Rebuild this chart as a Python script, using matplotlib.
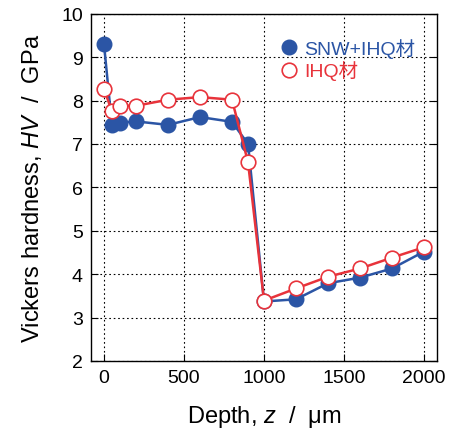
import matplotlib.pyplot as plt

plt.rcParams['font.family'] = ['Liberation Sans', 'Noto Sans CJK JP', 'DejaVu Sans']
plt.rcParams['mathtext.fontset'] = 'custom'
plt.rcParams['mathtext.it'] = 'Liberation Sans:italic'
plt.rcParams['mathtext.rm'] = 'Liberation Sans'

depth = [0, 50, 100, 200, 400, 600, 800, 900, 1000, 1200, 1400, 1600, 1800, 2000]
snw_ihq = [9.31, 7.43, 7.49, 7.52, 7.44, 7.62, 7.51, 7.0, 3.37, 3.42, 3.79, 3.92, 4.13, 4.52]
ihq = [8.27, 7.75, 7.88, 7.88, 8.02, 8.08, 8.02, 6.58, 3.39, 3.67, 3.94, 4.13, 4.38, 4.62]
labels = ['SNW+IHQ材', 'IHQ材']

blue = '#2b55a5'
red = '#e8333b'

fig = plt.figure(figsize=(4.49, 4.35), dpi=100)
ax = fig.add_axes([0.203, 0.168, 0.77, 0.798])

ax.plot(depth, snw_ihq, '-o', color=blue, lw=1.8, ms=10.5, mfc=blue, mec=blue,
        label=labels[0], zorder=3)
ax.plot(depth, ihq, '-o', color=red, lw=1.8, ms=10.5, mfc='white', mec=red,
        mew=1.2, label=labels[1], zorder=4)

ax.set_xlim(-80, 2080)
ax.set_ylim(2, 10)
ax.set_xticks([0, 500, 1000, 1500, 2000])
ax.set_yticks(range(2, 11))
ax.grid(True, color='black', linestyle=(0, (1.5, 2.5)), lw=0.8)
ax.tick_params(direction='in', right=True, top=False, labelsize=14, length=5, pad=6)
for s in ax.spines.values():
    s.set_linewidth(1.0)

ax.set_xlabel('Depth, $z$  /  μm', fontsize=17, labelpad=12)
ax.set_ylabel('Vickers hardness, $HV$  /  GPa', fontsize=17, labelpad=12)

leg = ax.legend(loc='upper left', bbox_to_anchor=(0.51, 0.97), frameon=False,
                handlelength=0.8, handletextpad=0.4, fontsize=14,
                borderaxespad=0.3, labelspacing=0.15)
for t, c in zip(leg.get_texts(), [blue, red]):
    t.set_color(c)
for h in leg.legend_handles:
    h.set_linestyle('None')

fig.savefig('out.png', dpi=100)
